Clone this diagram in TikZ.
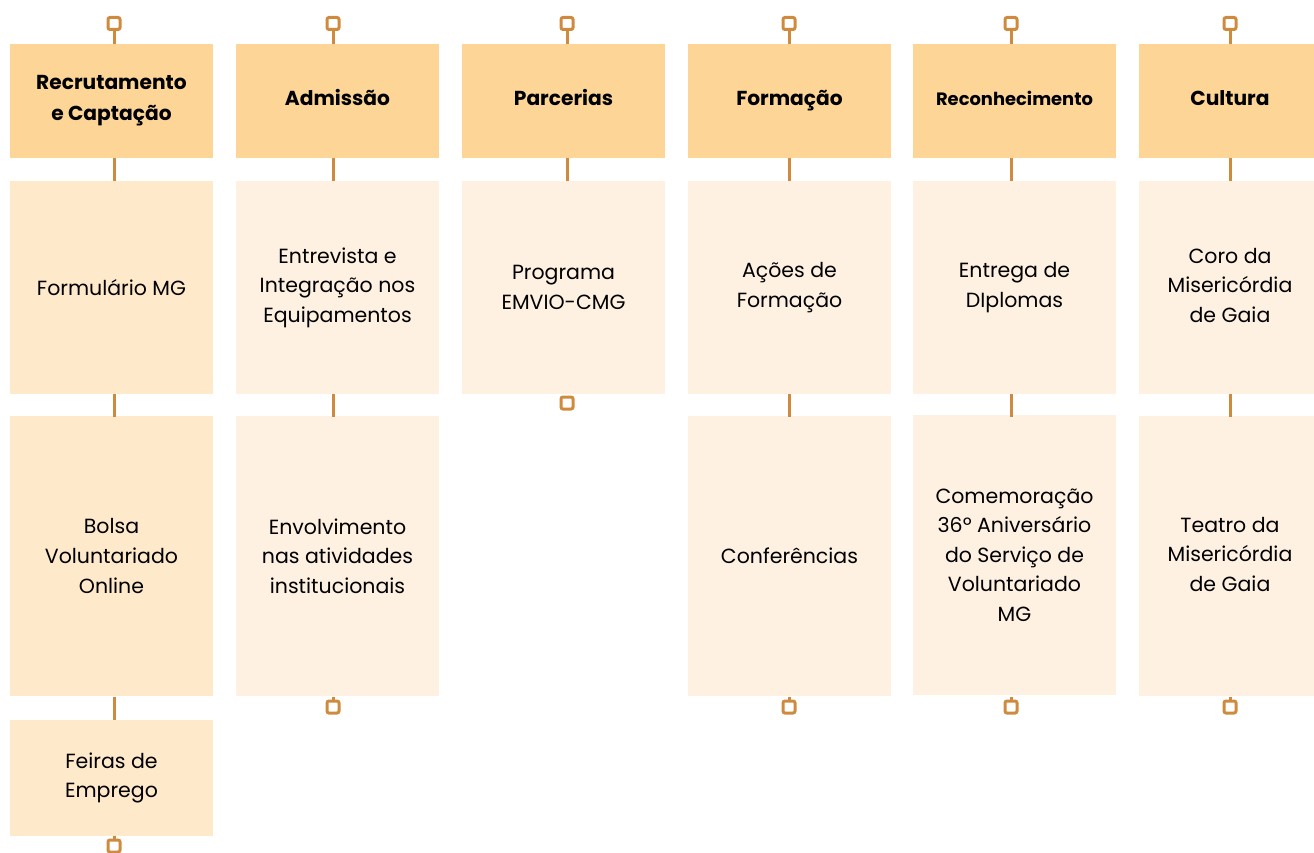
\documentclass[tikz,border=0pt]{standalone}
\usepackage{fontspec}
\setmainfont{Poppins}
\definecolor{hdrfill}{HTML}{FDD597}
\definecolor{boxfill}{HTML}{FEF1E1}
\definecolor{boxfillA}{HTML}{FEE9CB}
\definecolor{linkc}{HTML}{D08A3E}
\tikzset{
  hdr/.style={fill=hdrfill, minimum width=203pt, minimum height=114pt, inner sep=0pt},
  hdrtext/.style={inner sep=0pt, align=center, font=\fontsize{20.2}{31}\selectfont\bfseries},
  cell/.style={fill=boxfill, minimum width=203pt, inner sep=0pt, align=center, font=\fontsize{20.5}{29.6}\selectfont},
  cellA/.style={cell, fill=boxfillA},
  pin/.style={draw=linkc, fill=white, line width=3pt, rounded corners=2pt, minimum size=12pt, inner sep=0pt},
  link/.style={draw=linkc, line width=3pt},
}
\begin{document}
\begin{tikzpicture}[x=1pt,y=-1pt]
\useasboundingbox (0,0) rectangle (1314,853);
% column 1
\node[hdr] (h1) at (111.5,101) {};
\node[hdrtext] (h1t) at (111.5,101) {Recrutamento\\e Captação};
\node[cellA, minimum height=213pt] (a1) at (111.5,287.5) {Formulário MG};
\node[cellA, minimum height=280pt] (b1) at (111.5,556) {Bolsa\\Voluntariado\\Online};
\node[cellA, minimum height=116pt] (c1) at (111.5,778) {Feiras de\\Emprego};
\node[pin] (t1) at (114,23.5) {};
\node[pin] (e1) at (114,846) {};
\draw[link] (t1.south) -- (114,44);
\draw[link] (114,158) -- (114,181);
\draw[link] (114,394) -- (114,417);
\draw[link] (114,697) -- (114,720);
\draw[link] (114,836) -- (e1.north);
% column 2
\node[hdr] (h2) at (337.5,101) {};
\node[hdrtext, anchor=base] (h2t) at (337.5,106) {Admissão};
\node[cell, minimum height=213pt] (a2) at (337.5,287.5) {Entrevista e\\Integração nos\\Equipamentos};
\node[cell, minimum height=280pt] (b2) at (337.5,556) {Envolvimento\\nas atividades\\institucionais};
\node[pin] (t2) at (333,23.5) {};
\node[pin] (e2) at (333,707) {};
\draw[link] (t2.south) -- (333,44);
\draw[link] (333,158) -- (333,181);
\draw[link] (333,394) -- (333,417);
\draw[link] (333,697) -- (e2.north);
% column 3
\node[hdr] (h3) at (563.5,101) {};
\node[hdrtext, anchor=base] (h3t) at (563.5,106) {Parcerias};
\node[cell, minimum height=213pt] (a3) at (563.5,287.5) {Programa\\EMVIO-CMG};
\node[pin] (t3) at (567,23.5) {};
\node[pin] (e3) at (567,403) {};
\draw[link] (t3.south) -- (567,44);
\draw[link] (567,158) -- (567,181);
% column 4
\node[hdr] (h4) at (789.5,101) {};
\node[hdrtext, anchor=base] (h4t) at (789.5,106) {Formação};
\node[cell, minimum height=213pt] (a4) at (789.5,287.5) {Ações de\\Formação};
\node[cell, minimum height=280pt] (b4) at (789.5,556) {Conferências};
\node[pin] (t4) at (789,23.5) {};
\node[pin] (e4) at (789,707) {};
\draw[link] (t4.south) -- (789,44);
\draw[link] (789,158) -- (789,181);
\draw[link] (789,394) -- (789,417);
\draw[link] (789,697) -- (e4.north);
% column 5
\node[hdr] (h5) at (1014.5,101) {};
\node[hdrtext, anchor=base, font=\fontsize{17.9}{31}\selectfont\bfseries] (h5t) at (1014.5,105.5) {Reconhecimento};
\node[cell, minimum height=213pt] (a5) at (1014.5,287.5) {Entrega de\\DIplomas};
\node[cell, minimum height=280pt] (b5) at (1014.5,555) {Comemoração\\36º Aniversário\\do Serviço de\\Voluntariado\\MG};
\node[pin] (t5) at (1011,23.5) {};
\node[pin] (e5) at (1011,707) {};
\draw[link] (t5.south) -- (1011,44);
\draw[link] (1011,158) -- (1011,181);
\draw[link] (1011,394) -- (1011,417);
\draw[link] (1011,697) -- (e5.north);
% column 6
\node[hdr, minimum width=175pt] (h6) at (1226.5,101) {};
\node[hdrtext, anchor=base] (h6t) at (1230,106) {Cultura};
\node[cell, minimum width=175pt, minimum height=213pt] (a6) at (1226.5,287.5) {};
\node[cell, minimum width=175pt, minimum height=280pt] (b6) at (1226.5,556) {};
\node[cell, fill=none] (a6t) at (1230,285.5) {Coro da\\Misericórdia\\de Gaia};
\node[cell, fill=none] (b6t) at (1230,554.5) {Teatro da\\Misericórdia\\de Gaia};
\node[pin] (t6) at (1230,23.5) {};
\node[pin] (e6) at (1230,707) {};
\draw[link] (t6.south) -- (1230,44);
\draw[link] (1230,158) -- (1230,181);
\draw[link] (1230,394) -- (1230,417);
\draw[link] (1230,697) -- (e6.north);
\end{tikzpicture}
\end{document}
